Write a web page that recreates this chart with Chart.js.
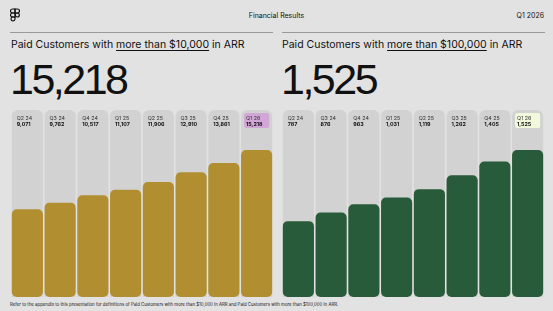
<!DOCTYPE html>
<html>
<head>
<meta charset="utf-8">
<script src="https://cdn.jsdelivr.net/npm/chart.js@4"></script>
<style>
	body { margin: 0; background: #e2e2e2; font-family: 'Inter', 'Liberation Sans', sans-serif; color: #111; }
	#page { position: relative; width: 553px; height: 311px; overflow: hidden; }
	.abs { position: absolute; }
	.hdr { font-size: 7px; top: 11px; color: #111; }
	.rule { height: 1px; background: #9a9a9a; top: 32px; }
	.sub { font-size: 10.5px; top: 38px; white-space: nowrap; }
	.sub u { text-decoration-thickness: 1px; text-underline-offset: 1.5px; }
	.big { font-family: 'Liberation Sans', Arial, sans-serif; font-size: 43px; top: 54px; letter-spacing: -2.5px; line-height: 50px; }
	.box { top: 110px; height: 187px; }
	.foot { font-size: 4.35px; top: 302px; left: 10px; white-space: nowrap; }
</style>
</head>
<body>
<div id="page">
	<svg class="abs" style="left:10px;top:8px" width="10" height="15" viewBox="0 0 10 15">
		<g fill="none" stroke="#111" stroke-width="1.2">
			<path d="M2.5 1 H5 V5 H2.5 A2 2 0 0 1 2.5 1 Z"/>
			<path d="M5 1 H7.5 A2 2 0 0 1 7.5 5 H5 Z"/>
			<path d="M2.5 5 H5 V9 H2.5 A2 2 0 0 1 2.5 5 Z"/>
			<circle cx="7.3" cy="7" r="2"/>
			<path d="M2.5 9 H5 V11 A2 2 0 1 1 2.5 9 Z"/>
		</g>
	</svg>
	<div class="abs hdr" style="left:0;width:553px;text-align:center">Financial Results</div>
	<div class="abs hdr" style="right:9px">Q1 2026</div>
	<div class="abs rule" style="left:10px;width:263px"></div>
	<div class="abs rule" style="left:282px;width:263px"></div>
	<div class="abs sub" style="left:11px">Paid Customers with <u>more than $10,000</u> in ARR</div>
	<div class="abs sub" style="left:282px">Paid Customers with <u>more than $100,000</u> in ARR</div>
	<div class="abs big" style="left:10px">15,218</div>
	<div class="abs big" style="left:281px">1,525</div>
	<div class="abs box" style="left:11px;width:262px"><canvas id="chartA"></canvas></div>
	<div class="abs box" style="left:282px;width:262px"><canvas id="chartB"></canvas></div>
	<div class="abs foot">Refer to the appendix to this presentation for definitions of Paid Customers with more than $10,000 in ARR and Paid Customers with more than $100,000 in ARR.</div>
</div>
<script>
let quarters = ['Q2 24', 'Q3 24', 'Q4 24', 'Q1 25', 'Q2 25', 'Q3 25', 'Q4 25', 'Q1 26'];
let over10k = [9071, 9762, 10517, 11107, 11906, 12910, 13861, 15218];
let over100k = [787, 876, 963, 1031, 1119, 1262, 1405, 1525];
let max10k = 19350;
let max100k = 1940;

// labels at the top of each grey column, last one highlighted
let topLabels = {
	id: 'topLabels',
	afterDatasetsDraw(chart, args, opts) {
		let ctx = chart.ctx;
		let meta = chart.getDatasetMeta(1);
		let yTop = chart.chartArea.top;
		ctx.save();
		meta.data.forEach(function (bar, i) {
			let left = bar.x - bar.width / 2;
			if (i === meta.data.length - 1) {
				ctx.fillStyle = opts.highlight;
				ctx.beginPath();
				ctx.roundRect(left + 3, yTop + 3, bar.width - 6, 15, 2);
				ctx.fill();
			}
			ctx.fillStyle = '#333';
			ctx.textBaseline = 'middle';
			ctx.font = '5.3px Inter, sans-serif';
			ctx.fillText(quarters[i], left + 5, yTop + 8);
			ctx.fillStyle = '#111';
			ctx.font = 'bold 5.3px Inter, sans-serif';
			ctx.fillText(opts.values[i].toLocaleString('en-US'), left + 5, yTop + 14);
		});
		ctx.restore();
	}
};

function makeChart(id, values, max, color, highlight) {
	return new Chart(document.getElementById(id).getContext('2d'), {
		type: 'bar',
		data: {
			labels: quarters,
			datasets: [{
				data: values,
				backgroundColor: color,
				borderRadius: 5,
				borderSkipped: false,
				grouped: false,
				order: 1
			}, {
				data: quarters.map(function () { return max; }),
				backgroundColor: '#d2d2d2',
				borderRadius: { topLeft: 6, topRight: 6 },
				borderSkipped: 'bottom',
				grouped: false,
				order: 2
			}]
		},
		options: {
			responsive: true,
			maintainAspectRatio: false,
			animation: false,
			datasets: { bar: { barPercentage: 0.95, categoryPercentage: 1 } },
			layout: { padding: 0 },
			scales: {
				x: { display: false },
				y: { display: false, min: 0, max: max }
			},
			plugins: {
				legend: { display: false },
				tooltip: { enabled: false },
				topLabels: { values: values, highlight: highlight }
			}
		},
		plugins: [topLabels]
	});
}

let chartA = makeChart('chartA', over10k, max10k, '#b18e30', '#d3a6d8');
let chartB = makeChart('chartB', over100k, max100k, '#275b39', '#f2f8dc');
</script>
</body>
</html>
